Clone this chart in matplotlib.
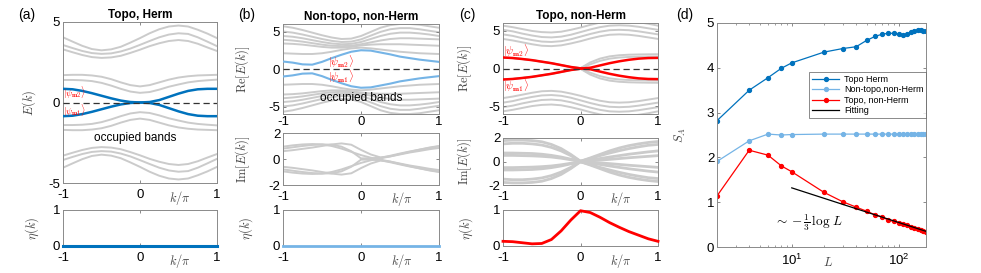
import numpy as np
import matplotlib
matplotlib.use("Agg")
import matplotlib.pyplot as plt

# ---- data ----
k = [-1, -0.875, -0.75, -0.625, -0.5, -0.375, -0.25, -0.125, 0,
     0.125, 0.25, 0.375, 0.5, 0.625, 0.75, 0.875, 1]

# spectra are symmetric about E=0, only the upper half is listed

# (a) Topo, Herm
a_gray = [
    [4.05, 3.78, 3.52, 3.32, 3.24, 3.30, 3.46, 3.72, 4.00, 4.30, 4.55, 4.72, 4.78, 4.72, 4.52, 4.28, 4.00],
    [3.57, 3.38, 3.20, 3.07, 3.02, 3.05, 3.17, 3.35, 3.58, 3.82, 4.05, 4.22, 4.30, 4.26, 4.05, 3.78, 3.50],
    [3.30, 3.12, 2.95, 2.82, 2.77, 2.80, 2.90, 3.08, 3.28, 3.50, 3.68, 3.82, 3.88, 3.82, 3.65, 3.42, 3.20],
    [1.70, 1.72, 1.72, 1.68, 1.60, 1.45, 1.25, 1.08, 1.00, 1.08, 1.25, 1.42, 1.55, 1.63, 1.68, 1.70, 1.72],
    [1.40, 1.40, 1.38, 1.33, 1.22, 1.05, 0.85, 0.68, 0.60, 0.65, 0.80, 0.98, 1.12, 1.25, 1.33, 1.38, 1.42],
]
a_mid = [0.85, 0.82, 0.72, 0.58, 0.42, 0.26, 0.12, 0.03, 0.0,
         -0.03, -0.15, -0.35, -0.55, -0.72, -0.82, -0.85, -0.85]
a_eta = [0] * 17

# (b) Non-topo, non-Herm
b_gray = [
    [5.70, 5.50, 5.20, 4.85, 4.50, 4.20, 4.00, 4.05, 4.40, 4.95, 5.50, 5.85, 6.00, 6.00, 5.90, 5.70, 5.50],
    [5.00, 4.85, 4.60, 4.30, 4.00, 3.75, 3.60, 3.65, 3.95, 4.45, 4.95, 5.30, 5.45, 5.45, 5.30, 5.10, 4.90],
    [4.40, 4.30, 4.10, 3.85, 3.60, 3.40, 3.30, 3.35, 3.60, 4.00, 4.40, 4.70, 4.85, 4.85, 4.75, 4.60, 4.40],
    [3.90, 3.80, 3.65, 3.45, 3.25, 3.10, 3.05, 3.10, 3.30, 3.55, 3.80, 4.00, 4.10, 4.10, 4.05, 4.00, 3.95],
    [3.40, 3.35, 3.25, 3.10, 2.95, 2.85, 2.85, 2.95, 3.15, 3.25, 3.30, 3.30, 3.30, 3.25, 3.20, 3.15, 3.10],
    [2.10, 2.05, 2.00, 2.00, 2.10, 2.30, 2.55, 2.75, 2.85, 2.75, 2.60, 2.45, 2.30, 2.20, 2.10, 2.05, 2.00],
]
b_mid = [1.00, 0.85, 0.62, 0.58, 0.95, 1.45, 1.90, 2.30, 2.50,
         2.45, 2.20, 1.95, 1.65, 1.45, 1.25, 1.10, 0.95]
b_im = [
    [0.95, 1.05, 1.12, 1.15, 1.12, 1.00, 0.80, 0.55, 0.30, 0.10, -0.05, -0.20, -0.38, -0.55, -0.72, -0.88, -1.00],
    [0.80, 0.90, 1.00, 1.08, 1.12, 1.10, 0.95, 0.60, 0.05, 0.05, 0.10, 0.25, 0.42, 0.58, 0.72, 0.85, 0.97],
    [0.60, 0.68, 0.78, 0.88, 1.00, 1.12, 1.20, 1.10, 0.70, 0.35, 0.12, 0.20, 0.35, 0.50, 0.62, 0.75, 0.85],
]
b_eta = [0] * 17

# (c) Topo, non-Herm
c_gray = [
    [5.65, 5.45, 5.20, 4.95, 4.80, 4.75, 4.85, 5.10, 5.40, 5.75, 6.05, 6.25, 6.30, 6.25, 6.10, 5.90, 5.65],
    [5.10, 4.90, 4.60, 4.35, 4.15, 4.10, 4.20, 4.45, 4.80, 5.15, 5.45, 5.65, 5.70, 5.65, 5.50, 5.30, 5.10],
    [4.50, 4.30, 4.00, 3.75, 3.55, 3.50, 3.60, 3.85, 4.20, 4.55, 4.85, 5.05, 5.10, 5.05, 4.90, 4.70, 4.50],
    [3.90, 3.70, 3.45, 3.20, 3.00, 2.95, 3.05, 3.30, 3.60, 3.95, 4.25, 4.45, 4.50, 4.45, 4.30, 4.10, 3.90],
    [1.45, 1.38, 1.25, 1.10, 0.90, 0.70, 0.45, 0.20, 0.05, 0.80, 1.30, 1.60, 1.75, 1.82, 1.85, 1.87, 1.88],
    [1.45, 1.38, 1.25, 1.10, 0.90, 0.70, 0.45, 0.20, 0.05, 0.55, 1.00, 1.30, 1.45, 1.52, 1.55, 1.57, 1.58],
]
c_mid = [1.45, 1.38, 1.25, 1.10, 0.90, 0.70, 0.45, 0.20, 0.02,
         -0.10, -0.40, -0.70, -0.95, -1.15, -1.30, -1.38, -1.40]
c_im = [
    [1.78, 1.82, 1.82, 1.78, 1.68, 1.45, 1.10, 0.60, 0.02, 0.30, 0.60, 0.90, 1.15, 1.35, 1.50, 1.62, 1.70],
    [1.50, 1.55, 1.55, 1.50, 1.40, 1.20, 0.90, 0.50, 0.02, 0.25, 0.50, 0.72, 0.92, 1.10, 1.25, 1.38, 1.45],
    [0.72, 0.72, 0.70, 0.68, 0.62, 0.52, 0.38, 0.20, 0.02, 0.12, 0.25, 0.38, 0.50, 0.62, 0.72, 0.82, 0.90],
    [0.52, 0.52, 0.50, 0.48, 0.44, 0.38, 0.28, 0.15, 0.02, 0.06, 0.12, 0.18, 0.25, 0.32, 0.38, 0.44, 0.50],
]
c_eta = [0.13, 0.12, 0.09, 0.06, 0.07, 0.18, 0.42, 0.72, 0.98,
         0.93, 0.80, 0.65, 0.52, 0.40, 0.30, 0.20, 0.13]

# (d) entanglement entropy
L = [2, 4, 6, 8, 10, 20, 30, 40, 50, 60, 70, 80, 90, 100,
     110, 120, 130, 140, 150, 160, 170, 180]
S_topo_herm = [2.82, 3.50, 3.78, 3.99, 4.11, 4.35, 4.43, 4.47, 4.61, 4.70, 4.75,
               4.77, 4.77, 4.75, 4.73, 4.75, 4.79, 4.82, 4.84, 4.84, 4.83, 4.82]
S_nontopo = [1.91, 2.37, 2.52, 2.50, 2.51, 2.52, 2.52, 2.52, 2.52, 2.52, 2.52,
             2.52, 2.52, 2.52, 2.52, 2.52, 2.52, 2.52, 2.52, 2.52, 2.52, 2.52]
S_topo_nonherm = [1.14, 2.16, 2.05, 1.81, 1.68, 1.22, 1.01, 0.89, 0.80, 0.72, 0.67,
                  0.60, 0.57, 0.54, 0.51, 0.48, 0.44, 0.42, 0.40, 0.38, 0.36, 0.33]
fit_L = [10, 180]
fit_S = [1.32, 0.35]

# ---- styling ----
GRAY = "#cbcbcb"
BLUE = "#0072BD"
LBLUE = "#75B4E6"
RED = "#FF0000"
LABC = "#444444"

plt.rcParams["font.family"] = ["Liberation Sans", "DejaVu Sans"]
plt.rcParams["mathtext.fontset"] = "cm"

W, H = 981, 273
fig = plt.figure(figsize=(W / 100, H / 100), dpi=100)


def px_axes(l, r, t, b):
    return fig.add_axes([l / W, 1 - b / H, (r - l) / W, (b - t) / H])


def style(ax, xpad=4):
    ax.tick_params(direction="in", top=True, right=True, length=2.5, width=0.6,
                   labelsize=9.5, pad=2, color="#777777")
    ax.tick_params(axis="x", pad=xpad)
    ax.tick_params(which="minor", direction="in", top=True, right=True,
                   length=1.5, width=0.5, color="#777777")
    for s in ax.spines.values():
        s.set_color("#8a8a8a")
        s.set_linewidth(0.7)


def kaxis(ax, label=True, off=-11):
    ax.set_xlim(-1, 1)
    ax.set_xticks([-1, 0, 1])
    ax.set_xticklabels(["-1", "0", "1"])
    if label:
        ax.annotate(r"$k/\pi$", xy=(0.52, 0), xycoords=("data", "axes fraction"),
                    xytext=(0, off), textcoords="offset points", ha="center",
                    va="center", fontsize=9, color=LABC)


def bands(ax, rows, lw=1.4):
    for r in rows:
        ax.plot(k, r, color=GRAY, lw=lw, zorder=1)
        ax.plot(k, [-v for v in r], color=GRAY, lw=lw, zorder=1)


def psi_labels(ax, x, y2, y1, fs=7.5):
    ax.text(x, y2, r"$|\psi_{\mathbf{m2}}\rangle$", color=RED, fontsize=fs,
            ha="left", va="center", zorder=5)
    ax.text(x, y1, r"$|\psi_{\mathbf{m1}}\rangle$", color=RED, fontsize=fs,
            ha="left", va="center", zorder=5)


def eta_axes(ax, vals, color, lw, xlab_x):
    ax.plot(k, vals, color=color, lw=lw, clip_on=False, zorder=3)
    ax.set_ylim(0, 1)
    ax.set_yticks([0, 1])
    kaxis(ax)
    ax.set_ylabel(r"$\eta(k)$", fontsize=9, color=LABC)
    ax.yaxis.set_label_coords(xlab_x, 0.5)
    style(ax)


# ---- (a) ----
ax = px_axes(63, 217, 22, 183)
bands(ax, a_gray)
ax.plot(k, a_mid, color=BLUE, lw=1.8, zorder=3)
ax.plot(k, [-v for v in a_mid], color=BLUE, lw=1.8, zorder=3)
ax.axhline(0, color="#333333", lw=0.9, ls=(0, (5, 3)), zorder=4)
ax.set_ylim(-5, 5)
ax.set_yticks([-5, 0, 5])
ax.set_yticklabels(["-5", "0", "5"])
kaxis(ax)
ax.set_ylabel(r"$E(k)$", fontsize=9, color=LABC)
ax.yaxis.set_label_coords(-0.16, 0.5)
ax.set_title("Topo, Herm", fontsize=8.5, fontweight="bold", pad=3)
psi_labels(ax, -1.0, 0.62, -0.5, fs=6.5)
ax.text(-0.06, -2.2, "occupied bands", fontsize=8.5, ha="center", va="center")
style(ax)

ax = px_axes(63, 217, 210, 246)
eta_axes(ax, a_eta, BLUE, 2.2, -0.14)

# ---- (b) ----
ax = px_axes(283, 439, 24, 114)
bands(ax, b_gray)
ax.plot(k, b_mid, color=LBLUE, lw=1.5, zorder=3)
ax.plot(k, [-v for v in b_mid], color=LBLUE, lw=1.5, zorder=3)
ax.axhline(0, color="#333333", lw=0.9, ls=(0, (5, 3)), zorder=4)
ax.set_ylim(-6, 6)
ax.set_yticks([-5, 0, 5])
ax.set_yticklabels(["-5", "0", "5"])
kaxis(ax, label=False)
ax.set_ylabel(r"$\mathrm{Re}[E(k)]$", fontsize=9, color=LABC)
ax.yaxis.set_label_coords(-0.2, 0.5)
ax.set_title("Non-topo, non-Herm", fontsize=8.5, fontweight="bold", pad=3)
psi_labels(ax, -0.42, 1.0, -1.0)
ax.text(0.0, -3.9, "occupied bands", fontsize=8.5, ha="center", va="center")
style(ax, xpad=1.5)

ax = px_axes(283, 439, 133, 185)
bands(ax, b_im)
ax.set_ylim(-2, 2)
ax.set_yticks([-2, 0, 2])
ax.set_yticklabels(["-2", "0", "2"])
kaxis(ax, off=-10)
ax.set_ylabel(r"$\mathrm{Im}[E(k)]$", fontsize=9, color=LABC)
ax.yaxis.set_label_coords(-0.2, 0.5)
style(ax)

ax = px_axes(283, 439, 210, 246)
eta_axes(ax, b_eta, LBLUE, 2.0, -0.18)

# ---- (c) ----
ax = px_axes(503, 658, 23, 114)
bands(ax, c_gray)
ax.plot(k, c_mid, color=RED, lw=1.8, zorder=3)
ax.plot(k, [-v for v in c_mid], color=RED, lw=1.8, zorder=3)
ax.axhline(0, color="#333333", lw=0.9, ls=(0, (5, 3)), zorder=4)
ax.set_ylim(-6, 6)
ax.set_yticks([-5, 0, 5])
ax.set_yticklabels(["-5", "0", "5"])
kaxis(ax, label=False)
ax.set_ylabel(r"$\mathrm{Re}[E(k)]$", fontsize=9, color=LABC)
ax.yaxis.set_label_coords(-0.19, 0.5)
ax.set_title("Topo, non-Herm", fontsize=8.5, fontweight="bold", pad=3)
psi_labels(ax, -1.0, 2.3, -2.3)
style(ax, xpad=1.5)

ax = px_axes(503, 658, 138, 185)
bands(ax, c_im, lw=2.0)
ax.set_ylim(-2, 2)
ax.set_yticks([-2, 0, 2])
ax.set_yticklabels(["-2", "0", "2"])
kaxis(ax, off=-10)
ax.set_ylabel(r"$\mathrm{Im}[E(k)]$", fontsize=9, color=LABC)
ax.yaxis.set_label_coords(-0.19, 0.5)
style(ax)

ax = px_axes(503, 658, 210, 246)
eta_axes(ax, c_eta, RED, 2.0, -0.18)

# ---- (d) ----
ax = px_axes(717, 926, 23, 247)
ax.plot(L, S_topo_herm, "-o", color=BLUE, lw=0.9, ms=2.8, label="Topo Herm")
ax.plot(L, S_nontopo, "-o", color=LBLUE, lw=0.9, ms=2.8, label="Non-topo,non-Herm")
ax.plot(L, S_topo_nonherm, "-o", color=RED, lw=0.9, ms=2.8, label="Topo, non-Herm")
ax.plot(fit_L, fit_S, "-", color="black", lw=0.9, label="Fitting")
ax.set_xscale("log")
ax.set_xlim(2, 180)
ax.set_ylim(0, 5)
ax.set_yticks([0, 1, 2, 3, 4, 5])
ax.set_ylabel(r"$S_A$", fontsize=9, color=LABC)
ax.yaxis.set_label_coords(-0.14, 0.5)
ax.annotate(r"$L$", xy=(0.53, 0), xycoords="axes fraction", xytext=(0, -11),
            textcoords="offset points", ha="center", va="center", fontsize=9,
            color=LABC)
ax.text(14.5, 0.55, r"$\sim -\frac{1}{3}\,\log\, L$", fontsize=9.5,
        ha="center", va="center")
leg = ax.legend(loc="upper right", bbox_to_anchor=(1.0, 0.78), fontsize=6.5,
                fancybox=False, edgecolor="#555555", handlelength=3.0,
                borderpad=0.3, labelspacing=0.15, handletextpad=0.5,
                borderaxespad=0.0)
leg.get_frame().set_linewidth(0.6)
style(ax)

# panel letters
for x, lab in [(27, "(a)"), (247, "(b)"), (467, "(c)"), (685, "(d)")]:
    fig.text(x / W, 1 - 15 / H, lab, fontsize=10, ha="center", va="center")

fig.savefig("out.png", dpi=100)
